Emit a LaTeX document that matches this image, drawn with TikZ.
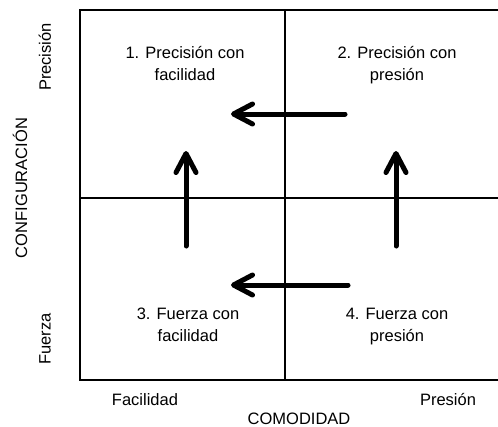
\documentclass[tikz,border=0pt]{standalone}
\usepackage{fontspec}
\setmainfont{Liberation Sans}
\usetikzlibrary{arrows.meta}
\begin{document}
\begin{tikzpicture}[x=1pt,y=-1pt,
  grid/.style={line width=2.5pt},
  bigarrow/.style={line width=5pt,line cap=round,
    -{Straight Barb[length=19pt,width=20pt,line cap=round,line join=round]}},
  lbl/.style={font=\fontsize{16.5}{22}\selectfont,inner sep=0pt,align=center,anchor=base},
  every node/.style={text=black}]
\useasboundingbox (0,0) rectangle (498,426);
% grid
\draw[grid] (498,10) -- (80,10) -- (80,380) -- (498,380);
\draw[grid] (285,10) -- (285,380);
\draw[grid] (80,198) -- (498,198);
% quadrant texts (anchor base = last line)
\node[lbl] (q1) at (185,80) {1. Precisión con\\facilidad};
\node[lbl] (q2) at (397,80) {2. Precisión con\\presión};
\node[lbl] (q3) at (188,341) {3. Fuerza con\\facilidad};
\node[lbl] (q4) at (397,341) {4. Fuerza con\\presión};
% axis labels
\node[lbl] (fac) at (145,405) {Facilidad};
\node[lbl] (pre) at (448,405) {Presión};
\node[lbl] (com) at (299,424) {COMODIDAD};
\node[lbl,rotate=90,anchor=center] (prec) at (45,57) {Precisión};
\node[lbl,rotate=90,anchor=center] (fue) at (45,339) {Fuerza};
\node[lbl,rotate=90,anchor=center] (conf) at (20,188) {CONFIGURACIÓN};
% arrows
\coordinate (a1s) at (345,114); \coordinate (a1e) at (231,114);
\coordinate (a2s) at (348,285); \coordinate (a2e) at (231,285);
\coordinate (a3s) at (186,246); \coordinate (a3e) at (186,151);
\coordinate (a4s) at (396,246); \coordinate (a4e) at (396,151);
\draw[bigarrow] (a1s) -- (a1e);
\draw[bigarrow] (a2s) -- (a2e);
\draw[bigarrow] (a3s) -- (a3e);
\draw[bigarrow] (a4s) -- (a4e);
\end{tikzpicture}
\end{document}
